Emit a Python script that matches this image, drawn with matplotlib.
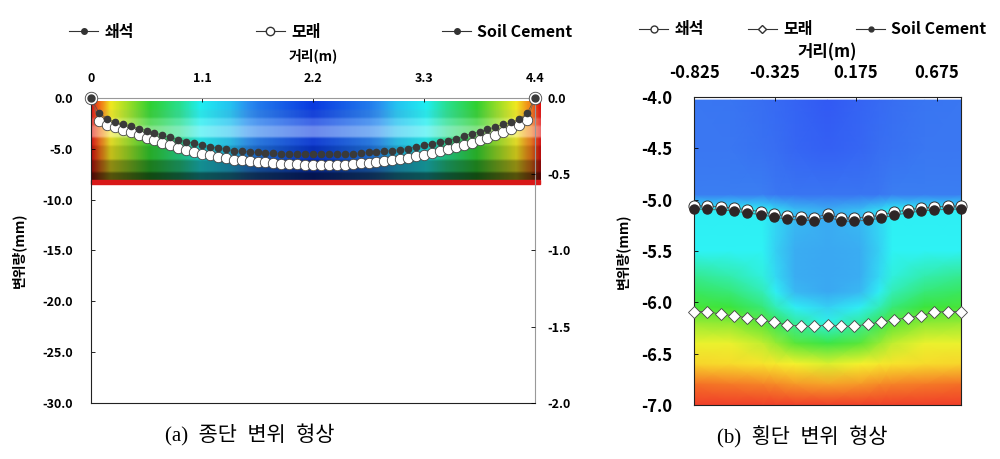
import numpy as np
import matplotlib
matplotlib.use('Agg')
import matplotlib.pyplot as plt
from matplotlib.colors import LinearSegmentedColormap
from matplotlib.lines import Line2D
from matplotlib.ticker import FormatStrFormatter

plt.rcParams['font.family'] = ['Noto Sans CJK KR', 'DejaVu Sans']

# ---------------- (a) longitudinal settlement ----------------
crushed_long = [0.0,
                -1.44, -2.03, -2.36, -2.56, -2.75, -3.01, -3.21, -3.41, -3.67, -3.87,
                -4.13, -4.29, -4.46, -4.62, -4.79, -4.95, -5.05, -5.18, -5.25,
                -5.31, -5.36, -5.40, -5.44, -5.49, -5.51, -5.52, -5.54, -5.54,
                -5.54, -5.54, -5.53, -5.51, -5.47, -5.40, -5.34, -5.29, -5.24,
                -5.17, -5.08, -4.97, -4.82, -4.66, -4.52, -4.36, -4.20, -3.99,
                -3.76, -3.50, -3.30, -3.09, -2.84, -2.60, -2.39, -2.10, -1.51,
                0.0]
sand_long = [0.0,
             -2.25, -2.62, -2.90, -3.10, -3.35, -3.62, -3.90, -4.18, -4.45, -4.65,
             -4.90, -5.10, -5.30, -5.48, -5.65, -5.80, -5.92, -6.05, -6.12,
             -6.20, -6.28, -6.34, -6.40, -6.46, -6.50, -6.53, -6.56, -6.58,
             -6.58, -6.58, -6.57, -6.55, -6.50, -6.44, -6.37, -6.30, -6.22,
             -6.12, -6.02, -5.90, -5.75, -5.58, -5.42, -5.25, -5.05, -4.85,
             -4.62, -4.40, -4.15, -3.90, -3.62, -3.35, -3.05, -2.70, -2.18,
             0.0]
long_x = np.linspace(0, 4.4, len(crushed_long))
soil_long_x = [0.0, 4.4]
soil_long = [0.0, 0.0]

long_xticks = [0, 1.1, 2.2, 3.3, 4.4]
long_xticklabels = ['0', '1.1', '2.2', '3.3', '4.4']
long_yticks = [0, -5, -10, -15, -20, -25, -30]
long_y2ticks = [0, -0.5, -1.0, -1.5, -2.0]

# background contour of (a): colour level across x, and horizontal shading bands
long_bg_x = [0.0, 0.09, 0.19, 0.39, 0.58, 0.88, 1.08, 1.38, 1.65, 2.2,
             2.75, 3.02, 3.32, 3.52, 3.82, 4.01, 4.21, 4.36, 4.45]
long_bg_level = [0.0, 0.15, 0.25, 0.35, 0.45, 0.55, 0.65, 0.72, 0.85, 1.0,
                 0.85, 0.72, 0.65, 0.55, 0.45, 0.35, 0.25, 0.15, 0.0]
band_top = [-0.35, -1.2, -2.0, -2.75, -3.9, -4.7, -6.1, -7.3]
band_bot = [-1.2, -2.0, -2.75, -3.9, -4.7, -6.1, -7.3, -8.05]
band_light = [0.0, 0.06, 0.22, 0.4, 0.05, 0.0, 0.0, 0.0]
band_dark = [1.0, 0.96, 1.0, 1.0, 0.93, 0.82, 0.6, 0.36]

# ---------------- (b) transverse settlement ----------------
cross_x = np.linspace(-0.825, 0.825, 21)
crushed_cross = [-5.06, -5.06, -5.07, -5.08, -5.10, -5.115, -5.14, -5.16, -5.17, -5.175,
                 -5.14, -5.18, -5.175, -5.17, -5.15, -5.12, -5.10, -5.08, -5.07, -5.065, -5.06]
sand_cross = [-6.09, -6.09, -6.115, -6.13, -6.15, -6.17, -6.195, -6.22, -6.23, -6.235,
              -6.22, -6.235, -6.23, -6.215, -6.19, -6.17, -6.15, -6.13, -6.095, -6.09, -6.09]
soil_cross = [-5.09, -5.095, -5.10, -5.11, -5.13, -5.145, -5.17, -5.19, -5.20, -5.205,
              -5.165, -5.21, -5.21, -5.20, -5.18, -5.15, -5.13, -5.11, -5.10, -5.095, -5.09]
cross_xticks = [-0.825, -0.325, 0.175, 0.675]
cross_xticklabels = ['-0.825', '-0.325', '0.175', '0.675']
cross_yticks = [-4.0, -4.5, -5.0, -5.5, -6.0, -6.5, -7.0]

cross_bg_x = [-0.825, -0.6, -0.4, -0.32, -0.2, 0.0, 0.2, 0.32, 0.4, 0.6, 0.825]
cross_bg_y = [-4.03, -4.5, -4.95, -5.1, -5.5, -5.75, -5.9, -6.05, -6.2, -6.4, -6.6, -6.8, -7.0]
cross_bg = [
    [0.88, 0.89, 0.91, 0.92, 0.94, 0.97, 0.94, 0.92, 0.91, 0.89, 0.88],
    [0.88, 0.88, 0.90, 0.91, 0.93, 0.95, 0.93, 0.91, 0.90, 0.88, 0.88],
    [0.87, 0.87, 0.87, 0.88, 0.89, 0.89, 0.89, 0.88, 0.87, 0.87, 0.87],
    [0.66, 0.66, 0.66, 0.70, 0.76, 0.79, 0.76, 0.70, 0.66, 0.66, 0.66],
    [0.65, 0.65, 0.65, 0.72, 0.79, 0.80, 0.79, 0.72, 0.65, 0.65, 0.65],
    [0.57, 0.59, 0.63, 0.70, 0.79, 0.80, 0.79, 0.70, 0.63, 0.59, 0.57],
    [0.53, 0.55, 0.60, 0.66, 0.77, 0.80, 0.77, 0.66, 0.60, 0.55, 0.53],
    [0.49, 0.50, 0.55, 0.60, 0.66, 0.72, 0.66, 0.60, 0.55, 0.50, 0.49],
    [0.43, 0.44, 0.48, 0.52, 0.58, 0.64, 0.58, 0.52, 0.48, 0.44, 0.43],
    [0.37, 0.37, 0.40, 0.43, 0.48, 0.51, 0.48, 0.43, 0.40, 0.37, 0.37],
    [0.30, 0.31, 0.33, 0.34, 0.36, 0.38, 0.36, 0.34, 0.33, 0.31, 0.30],
    [0.16, 0.17, 0.18, 0.19, 0.21, 0.22, 0.21, 0.19, 0.18, 0.17, 0.16],
    [0.05, 0.05, 0.05, 0.05, 0.05, 0.05, 0.05, 0.05, 0.05, 0.05, 0.05],
]

labels = ['쇄석', '모래', 'Soil Cement']
dark = '#333333'

cmap_long = LinearSegmentedColormap.from_list('long', [
    (0.0, '#e01010'), (0.15, '#f07818'), (0.25, '#f0e820'), (0.45, '#30d030'),
    (0.65, '#20eef0'), (0.8, '#2a90f0'), (1.0, '#0a3ae0')])
cmap_cross = LinearSegmentedColormap.from_list('cross', [
    (0.0, '#ee2a2a'), (0.15, '#f46a26'), (0.27, '#f8c82a'), (0.36, '#f6f22c'),
    (0.5, '#3ce43a'), (0.65, '#2ef2f4'), (0.78, '#3ab4f2'), (0.88, '#3a78f2'),
    (1.0, '#3050f4')])

fig = plt.figure(figsize=(10, 4.59), dpi=100)
caption_family = ['Liberation Serif', 'Noto Sans CJK KR']

# ======== left panel ========
ax = fig.add_axes([0.091, 0.122, 0.444, 0.6645])
ax.set_xlim(0, 4.4)
ax.set_ylim(-30, 0)

grid_x = np.linspace(0, 4.45, 400)
grid_y = np.linspace(-0.35, -8.05, 240)
knot_y, knot_l, knot_d = [], [], []
for t, b, lt, dk in zip(band_top, band_bot, band_light, band_dark):
    knot_y += [t - 0.12, b + 0.12]
    knot_l += [lt, lt]
    knot_d += [dk, dk]
knot_y, knot_l, knot_d = knot_y[::-1], knot_l[::-1], knot_d[::-1]
row_l = np.interp(grid_y, knot_y, knot_l)[:, None, None]
row_d = np.interp(grid_y, knot_y, knot_d)[:, None, None]
base = cmap_long(np.interp(grid_x, long_bg_x, long_bg_level))[:, :3][None, :, :]
rgb = np.clip((base * (1 - row_l) + row_l) * row_d, 0, 1)
ax.imshow(rgb, extent=[0, 4.45, -8.05, -0.35], aspect='auto',
          interpolation='bilinear', zorder=0, clip_on=False)
ax.axhspan(-8.45, -8.05, xmin=0, xmax=4.45 / 4.4, color='#d81818',
           zorder=0, clip_on=False)

ax.plot(long_x, sand_long, '-', color='#666666', lw=0.5, marker='o', ms=7.5,
        mfc='white', mec='#444444', mew=0.6, zorder=3, clip_on=False)
ax.plot(long_x, crushed_long, '-', color='#555555', lw=0.5, marker='o', ms=4.5,
        mfc='#3a3a3a', mec='#3a3a3a', zorder=4, clip_on=False)

ax.xaxis.tick_top()
ax.set_xticks(long_xticks)
ax.set_xticklabels(long_xticklabels, fontsize=9, fontweight='bold')
ax.set_yticks(long_yticks)
ax.yaxis.set_major_formatter(FormatStrFormatter('%.1f'))
for t in ax.get_yticklabels():
    t.set_fontsize(9)
    t.set_fontweight('bold')
ax.tick_params(axis='y', direction='in', length=3, width=0.6, pad=13)
ax.tick_params(axis='x', direction='in', length=3, width=0.6, pad=9)
ax.xaxis.set_label_position('top')
ax.set_xlabel('거리(m)', fontsize=10, fontweight='bold')
ax.xaxis.set_label_coords(0.5, 1.125)
ax.set_ylabel('변위량(mm)', fontsize=10, fontweight='bold')
ax.yaxis.set_label_coords(-0.147, 0.5)
for s in ax.spines.values():
    s.set_linewidth(0.8)
    s.set_color('#222222')
ax.spines['top'].set_color('#999999')
ax.spines['right'].set_color('#999999')

ax2 = ax.twinx()
ax2.set_ylim(-2, 0)
ax2.set_yticks(long_y2ticks)
ax2.yaxis.set_major_formatter(FormatStrFormatter('%.1f'))
for t in ax2.get_yticklabels():
    t.set_fontsize(9)
    t.set_fontweight('bold')
ax2.tick_params(direction='in', length=3, width=0.6, pad=9)
ax2.plot(soil_long_x, soil_long, '-', color='#999999', lw=0.6, marker='o', ms=9,
         mfc='white', mec='#444444', mew=0.6, zorder=5, clip_on=False)
ax2.plot(soil_long_x, soil_long, 'o', ms=5, color='#3a3a3a', zorder=6, clip_on=False)
for s in ax2.spines.values():
    s.set_visible(False)

ax.text(0.358, -0.105, '(a)  종단  변위  형상', transform=ax.transAxes,
        ha='center', va='center', fontsize=15, fontweight='light',
        family=caption_family)

h_long = [Line2D([], [], color=dark, lw=0.8, marker='o', ms=4, mfc=dark, mec=dark),
          Line2D([], [], color=dark, lw=0.8, marker='o', ms=6, mfc='white', mec=dark),
          Line2D([], [], color=dark, lw=0.8, marker='o', ms=4, mfc=dark, mec=dark)]
fig.legend(h_long, labels, loc='lower left', bbox_to_anchor=(0.063, 0.9, 0.516, 0.06),
           mode='expand', ncol=3, frameon=False, handlelength=1.8, handletextpad=0.4,
           borderaxespad=0, prop=dict(size=11.5, weight='bold'))

# ======== right panel ========
bx = fig.add_axes([0.694, 0.1176, 0.267, 0.671])
bx.set_xlim(-0.825, 0.825)
bx.set_ylim(-7.0, -4.0)
bx.pcolormesh(cross_bg_x, cross_bg_y, np.array(cross_bg), cmap=cmap_cross,
              vmin=0, vmax=1, shading='gouraud', zorder=0)

bx.plot(cross_x, crushed_cross, '-', color='#555555', lw=0.6, marker='o', ms=8,
        mfc='white', mec='#333333', mew=0.7, zorder=3, clip_on=False)
bx.plot(cross_x, soil_cross, '-', color='#555555', lw=0.6, marker='o', ms=6.5,
        mfc='#2e2626', mec='#2e2626', zorder=4, clip_on=False)
bx.plot(cross_x, sand_cross, '-', color='#555555', lw=0.6, marker='D', ms=6,
        mfc='white', mec='#444444', mew=0.6, zorder=3, clip_on=False)

bx.xaxis.tick_top()
bx.set_xticks(cross_xticks)
bx.set_xticklabels(cross_xticklabels, fontsize=12, fontweight='bold')
bx.set_yticks(cross_yticks)
bx.yaxis.set_major_formatter(FormatStrFormatter('%.1f'))
for t in bx.get_yticklabels():
    t.set_fontsize(12)
    t.set_fontweight('bold')
bx.tick_params(axis='y', direction='in', length=3, width=0.6, pad=16)
bx.tick_params(axis='x', direction='in', length=3, width=0.6, pad=11)
bx.xaxis.set_label_position('top')
bx.set_xlabel('거리(m)', fontsize=12, fontweight='bold')
bx.xaxis.set_label_coords(0.5, 1.13)
bx.set_ylabel('변위량(mm)', fontsize=10, fontweight='bold')
bx.yaxis.set_label_coords(-0.24, 0.5)
for s in bx.spines.values():
    s.set_linewidth(0.8)
    s.set_color('#222222')

bx.text(0.405, -0.104, '(b)  횡단  변위  형상', transform=bx.transAxes,
        ha='center', va='center', fontsize=15, fontweight='light',
        family=caption_family)

h_cross = [Line2D([], [], color=dark, lw=0.8, marker='o', ms=5, mfc='white', mec=dark),
           Line2D([], [], color=dark, lw=0.8, marker='D', ms=4.5, mfc='white', mec=dark),
           Line2D([], [], color=dark, lw=0.8, marker='o', ms=3.5, mfc=dark, mec=dark)]
fig.legend(h_cross, labels, loc='lower left', bbox_to_anchor=(0.633, 0.905, 0.36, 0.06),
           mode='expand', ncol=3, frameon=False, handlelength=1.8, handletextpad=0.4,
           borderaxespad=0, prop=dict(size=11.5, weight='bold'))

fig.savefig('out.png', dpi=100)
